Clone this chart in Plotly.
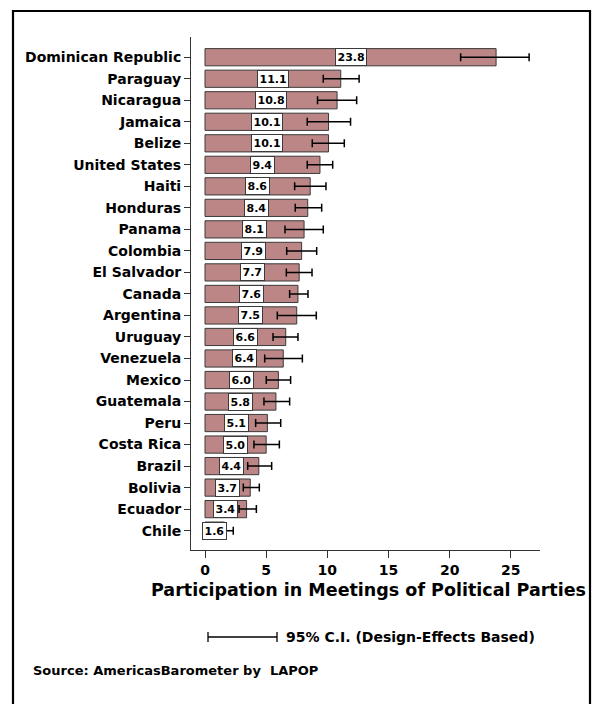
import plotly.graph_objects as go

countries = ["Dominican Republic", "Paraguay", "Nicaragua", "Jamaica", "Belize",
             "United States", "Haiti", "Honduras", "Panama", "Colombia",
             "El Salvador", "Canada", "Argentina", "Uruguay", "Venezuela",
             "Mexico", "Guatemala", "Peru", "Costa Rica", "Brazil", "Bolivia",
             "Ecuador", "Chile"]
values = [23.8, 11.1, 10.8, 10.1, 10.1, 9.4, 8.6, 8.4, 8.1, 7.9, 7.7, 7.6, 7.5,
          6.6, 6.4, 6.0, 5.8, 5.1, 5.0, 4.4, 3.7, 3.4, 1.6]
ci_low = [20.9, 9.67, 9.2, 8.36, 8.77, 8.36, 7.33, 7.38, 6.54, 6.68, 6.65, 6.92,
          5.91, 5.56, 4.88, 5.01, 4.82, 4.14, 4.0, 3.49, 3.13, 2.78, 0.9]
ci_high = [26.5, 12.6, 12.4, 11.9, 11.39, 10.44, 9.89, 9.54, 9.67, 9.13, 8.75, 8.42,
           9.1, 7.6, 7.96, 7.0, 6.92, 6.19, 6.08, 5.45, 4.44, 4.2, 2.31]
x_ticks = [0, 5, 10, 15, 20, 25]
x_title = "Participation in Meetings of Political Parties"
legend_text = "95% C.I. (Design-Effects Based)"
source_text = "Source: AmericasBarometer by  LAPOP"

W, H = 593, 704
L, R, T, B = 191, 540, 37, 550  # plot area in pixels

# bottom-to-top order for plotly categorical axis
cats = countries[::-1]
vals = values[::-1]
lo = ci_low[::-1]
hi = ci_high[::-1]

FONT = "DejaVu Sans"

def px_x(p):
    return (p - L) / (R - L)

def px_y(p):
    return (B - p) / (B - T)

fig = go.Figure()
fig.add_trace(go.Bar(
    x=vals, y=cats, orientation="h", width=0.8,
    marker=dict(color="#BC8686", line=dict(color="#3a3a3a", width=1)),
    error_x=dict(type="data", symmetric=False,
                 array=[h - v for h, v in zip(hi, vals)],
                 arrayminus=[v - l for l, v in zip(lo, vals)],
                 color="black", thickness=1.5, width=4),
    hoverinfo="skip", showlegend=False,
))

annotations = []
for c, v in zip(cats, vals):
    annotations.append(dict(
        x=v / 2, y=c, xref="x", yref="y", text=f"{v:.1f}", showarrow=False,
        font=dict(family=FONT, size=11, color="black", weight="bold"),
        bgcolor="white", bordercolor="#3a3a3a", borderwidth=1, borderpad=1.5,
    ))

annotations.append(dict(
    x=px_x(368.5), y=px_y(590), xref="paper", yref="paper", text=x_title,
    showarrow=False, xanchor="center", yanchor="middle",
    font=dict(family=FONT, size=17.5, color="black", weight="bold"),
))
annotations.append(dict(
    x=px_x(284), y=px_y(637), xref="paper", yref="paper", text=legend_text,
    showarrow=False, xanchor="left", yanchor="middle",
    font=dict(family=FONT, size=14, color="black", weight="bold"),
))
annotations.append(dict(
    x=px_x(31), y=px_y(670), xref="paper", yref="paper", text=source_text,
    showarrow=False, xanchor="left", yanchor="middle",
    font=dict(family=FONT, size=13, color="black", weight="bold"),
))

shapes = [
    # outer border
    dict(type="rect", xref="paper", yref="paper",
         x0=px_x(13), x1=px_x(590), y0=px_y(11), y1=px_y(730),
         line=dict(color="black", width=2.2), fillcolor="rgba(0,0,0,0)", layer="above"),
    # legend CI key
    dict(type="line", xref="paper", yref="paper",
         x0=px_x(208), x1=px_x(277), y0=px_y(637), y1=px_y(637),
         line=dict(color="black", width=1.3)),
    dict(type="line", xref="paper", yref="paper",
         x0=px_x(208), x1=px_x(208), y0=px_y(632), y1=px_y(642),
         line=dict(color="black", width=1.3)),
    dict(type="line", xref="paper", yref="paper",
         x0=px_x(277), x1=px_x(277), y0=px_y(632), y1=px_y(642),
         line=dict(color="black", width=1.3)),
]

fig.update_layout(
    width=W, height=H,
    margin=dict(l=L, r=W - R, t=T, b=H - B, pad=0),
    paper_bgcolor="white", plot_bgcolor="white",
    bargap=0.2,
    annotations=annotations, shapes=shapes,
    xaxis=dict(range=[-1.145, 27.39], tickvals=x_ticks, ticks="outside",
               ticklen=7, tickcolor="#333", showline=True, linecolor="#333",
               linewidth=1, showgrid=False, zeroline=False,
               tickfont=dict(family=FONT, size=14, color="black", weight="bold")),
    yaxis=dict(type="category", categoryorder="array", categoryarray=cats,
               range=[-0.9, 22.94], ticks="outside", ticklen=6, tickcolor="#333",
               showline=True, linecolor="#333", linewidth=1, showgrid=False,
               zeroline=False,
               tickfont=dict(family=FONT, size=14, color="black", weight="bold")),
)

fig.write_html("out.html")
